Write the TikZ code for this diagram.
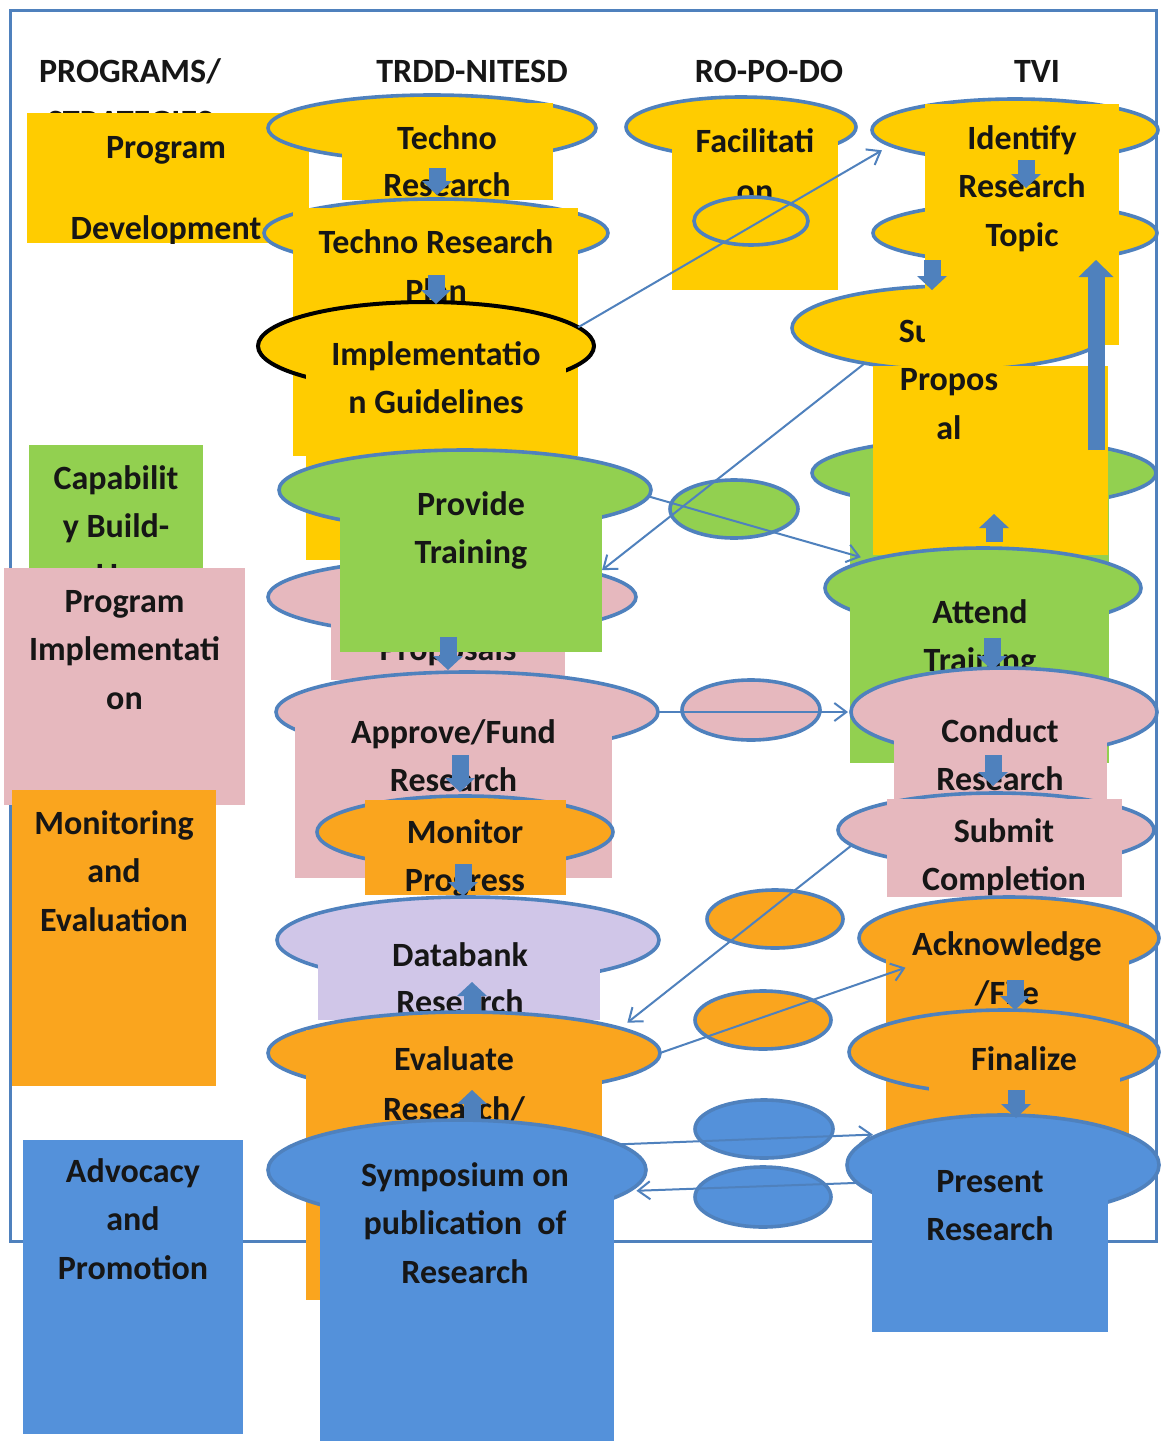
\documentclass[tikz,border=0pt]{standalone}
\usepackage{fontspec}
\setmainfont{Carlito}
\usetikzlibrary{shapes.geometric,arrows.meta}
\definecolor{yel}{RGB}{255,204,0}
\definecolor{org}{RGB}{250,165,30}
\definecolor{grn}{RGB}{146,208,80}
\definecolor{pnk}{RGB}{230,184,190}
\definecolor{lav}{RGB}{208,198,232}
\definecolor{blu}{RGB}{84,145,218}
\definecolor{ln}{RGB}{79,129,189}
\definecolor{ink}{RGB}{22,22,22}
% name, colour, x1, y1, x2, y2 (pixels)
\newcommand\boxnode[6]{\node[bx, fill=#2, minimum width={(#5-#3)*0.5pt}, minimum height={(#6-#4)*0.5pt}] (#1) at ({(#3+#5)/2},{(#4+#6)/2}) {};}
% name, colour, cx, cy, rx, ry (pixels)
\newcommand\ovalnode[6]{\node[ov, fill=#2, minimum width=#5pt, minimum height=#6pt] (#1) at (#3,#4) {};}
% name, x, y of first line centre, line spacing, lines
\newcommand\txtlines[5]{\foreach \linetext [count=\i from 0] in {#5} {\node[txt] (#1-\i) at ({#2},{#3+10+#4*\i}) {\linetext};}}
% name, x, y start, y tip
\newcommand\blkarrow[4]{\coordinate (#1-s) at (#2,#3); \coordinate (#1-e) at (#2,#4); \draw[blk] (#1-s) -- (#1-e);}
\begin{document}
\begin{tikzpicture}[x=0.5pt,y=-0.5pt,
  ov/.style={ellipse, draw=ln, line width=1.8pt, inner sep=0pt, outer sep=0pt},
  bx/.style={rectangle, draw=none, inner sep=0pt, outer sep=0pt},
  txt/.style={anchor=base, inner sep=0pt, outer sep=0pt, text=ink, font=\bfseries\fontsize{17}{20}\selectfont},
  conn/.style={draw=ln, line width=1pt, -{Straight Barb[length=6pt,width=9pt]}},
  blk/.style={draw=ln, line width=8.5pt, -{Triangle[length=7pt,width=15pt,line width=0pt]}},
  bigblk/.style={draw=ln, line width=8.5pt, -{Triangle[length=8.5pt,width=17.5pt,line width=0pt]}}]
\useasboundingbox (0,0) rectangle (1168,1441);
\fill[white] (0,0) rectangle (1168,1441);
\node[bx, draw=ln, line width=1.5pt, minimum width=573pt, minimum height=615.5pt] (frame) at (583,625.5) {};

% headers
\txtlines{hp}{130}{72}{51.5}{PROGRAMS/,STRATEGIES}
\txtlines{ht}{472}{72}{48.5}{TRDD-NITESD}
\txtlines{hr}{769}{72}{48.5}{RO-PO-DO}
\txtlines{hv}{1037}{72}{48.5}{TVI}

% column 1
\boxnode{pdR}{yel}{27}{113}{309}{243}
\begin{scope}
\clip (27,113) rectangle (309,243);
\txtlines{pd}{166}{148}{81}{Program,Development}
\end{scope}
\boxnode{cbR}{grn}{29}{445}{203}{590}
\txtlines{cb}{116}{479}{48.5}{Capabilit,y Build-,Up}
\boxnode{piR}{pnk}{4}{568}{245}{805}
\txtlines{pi}{124.5}{602}{48.5}{Program,Implementati,on}
\boxnode{meR}{org}{11.5}{790}{216}{1086}
\txtlines{me}{114}{824}{48.5}{Monitoring,and,Evaluation}
\boxnode{adR}{blu}{23}{1140}{243}{1434}
\txtlines{ad}{133}{1172}{48.5}{Advocacy,and,Promotion}

% column 2
\ovalnode{t1E}{yel}{432}{128}{164}{33}
\boxnode{t1R}{yel}{342}{103}{553}{200}
\txtlines{t1}{447}{139}{47}{Techno,Research}
\ovalnode{t2E}{yel}{436}{233}{172}{34}
\boxnode{t2R}{yel}{293}{208}{578}{456}
\txtlines{t2}{436}{243}{49}{Techno Research,Plan}
\node[ov, draw=black, line width=2pt, fill=yel, minimum width=168pt, minimum height=44pt] (igE) at (426,346) {};
\boxnode{igR}{yel}{306}{330}{566}{560}
\txtlines{ig}{436}{355}{48.5}{Implementatio,n Guidelines}
\ovalnode{spE}{pnk}{452}{597}{184}{38}
\boxnode{spR}{pnk}{331}{575}{565}{680}
\txtlines{sp}{448}{650}{48.5}{Proposals}
\ovalnode{ptE}{grn}{465}{490}{186}{40}
\boxnode{ptR}{grn}{340}{470}{602}{652}
\txtlines{pt}{471}{505}{48.5}{Provide,Training}
\ovalnode{afE}{pnk}{467}{712}{191}{40}
\boxnode{afR}{pnk}{295}{720}{612}{878}
\txtlines{af}{453.5}{733}{48}{Approve/Fund,Research}
\ovalnode{mpE}{org}{465}{832}{148}{36}
\boxnode{mpR}{org}{365}{800}{566}{895}
\txtlines{mp}{465}{833}{48.5}{Monitor,Progress}
\ovalnode{drE}{lav}{468}{940}{191}{43}
\boxnode{drR}{lav}{318}{915}{600}{1020}
\txtlines{dr}{460}{956}{47.5}{Databank,Research}
\ovalnode{evE}{org}{464}{1053}{196}{41}
\boxnode{evR}{org}{306}{1030}{602}{1300}
\txtlines{ev}{454}{1060}{50}{Evaluate,Research/}
\ovalnode{syE}{blu}{457}{1170}{189}{50}
\boxnode{syR}{blu}{320}{1145}{614}{1441}
\txtlines{sy}{465}{1176}{48.5}{Symposium on,publication\ \ of,Research}

% column 3
\ovalnode{faE}{yel}{741}{127}{115}{30}
\boxnode{faR}{yel}{672}{120}{838}{290}
\txtlines{fa}{755}{142}{50}{Facilitati,on}
\ovalnode{s1}{yel}{751}{221}{57}{24}
\ovalnode{s2}{grn}{734}{509}{64}{29}
\ovalnode{s3}{pnk}{751}{710}{69}{30}
\ovalnode{s4}{org}{775}{919}{68}{29}
\ovalnode{s5}{org}{763}{1020}{68}{29}
\ovalnode{s6}{blu}{764}{1129}{69}{29}
\ovalnode{s7}{blu}{763}{1197}{68}{30}

% column 4
\ovalnode{suE}{yel}{952}{328}{160}{42}
\ovalnode{atE1}{grn}{984}{473}{172}{35}
\boxnode{atRa}{grn}{850}{470}{1109}{600}
\boxnode{suR}{yel}{873}{366}{1108}{555}
\txtlines{su}{949}{332}{48.5}{Submit,Propos,al}
\ovalnode{idE1}{yel}{1015}{130}{143}{31}
\ovalnode{idE2}{yel}{1015}{233}{142}{30}
\boxnode{idR}{yel}{925}{104}{1119}{345}
\txtlines{id}{1022}{139}{48.5}{Identify,Research,Topic}
\ovalnode{atE2}{grn}{983}{588}{158}{40}
\boxnode{atRb}{grn}{850}{600}{1109}{763}
\txtlines{at}{980}{613}{48}{Attend,Training}
\ovalnode{coE}{pnk}{1004}{712}{153}{44}
\boxnode{coR}{pnk}{894}{720}{1107}{800}
\txtlines{co}{1000}{732}{48.5}{Conduct,Research}
\ovalnode{scE}{pnk}{996}{830}{158}{37}
\boxnode{scR}{pnk}{887}{799}{1122}{897}
\txtlines{sc}{1004}{832}{48.5}{Submit,Completion}
\ovalnode{akE}{org}{1009}{938}{150}{41}
\boxnode{akR}{org}{886}{920}{1129}{1138}
\txtlines{ak}{1007}{945}{49}{Acknowledge,/File}
\ovalnode{fiE}{org}{1004}{1052}{155}{42}
\boxnode{fiR}{org}{929}{1030}{1120}{1130}
\txtlines{fi}{1024}{1060}{48.5}{Finalize}
\ovalnode{prE}{blu}{1003}{1165}{156}{50}
\boxnode{prR}{blu}{872}{1150}{1108}{1332}
\txtlines{pr}{990}{1182}{48.5}{Present,Research}

% connectors
\draw[conn, shorten >=5pt] (igE.7) -- (idE1.187);
\draw[conn] (suE.202) -- (ptR.-4);
\draw[conn, shorten >=5pt] (ptE.-2) -- (atE2.166);
\draw[conn, shorten >=1.5pt] (afE.east) -- (coE.west);
\draw[conn, shorten >=4.5pt] (scE.186) -- (evE.9);
\draw[conn] (evE.east) -- (akE.196);
\draw[conn, shorten >=3.5pt] (syE.9) -- (prE.166);
\draw[conn, shorten >=4pt] (prE.187) -- (syE.-7);

% block arrows
\blkarrow{a1}{437}{168}{195}
\blkarrow{a2}{436}{275}{304}
\blkarrow{a3}{448}{637}{670}
\blkarrow{a4}{460}{755}{792}
\blkarrow{a5}{463}{864}{896}
\blkarrow{a6}{472}{1012}{982}
\blkarrow{a7}{472}{1120}{1090}
\blkarrow{a8}{1026}{160}{188}
\blkarrow{a9}{932}{260}{290}
\coordinate (a10-s) at (1096,450); \coordinate (a10-e) at (1096,260);
\draw[bigblk] (a10-s) -- (a10-e);
\blkarrow{a11}{994}{542}{514}
\blkarrow{a12}{992}{638}{670}
\blkarrow{a13}{993}{755}{786}
\blkarrow{a14}{1015}{980}{1010}
\blkarrow{a15}{1016}{1090}{1118}
\end{tikzpicture}
\end{document}
